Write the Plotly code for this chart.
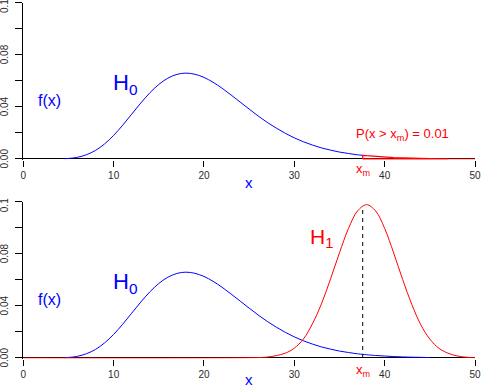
import plotly.graph_objects as go

# ---- data ----
h0_x = [4.5, 5, 6, 7, 8, 9, 10, 11, 12, 13, 14, 15, 16, 17, 18, 19, 20, 21, 22, 23, 24, 25,
        26, 27, 28, 29, 30, 31, 32, 33, 34, 35, 36, 37, 37.57, 38, 39, 40, 41, 42, 43, 44, 45, 46, 47]
h0_y = [0.0002, 0.0004, 0.0013, 0.0033, 0.0066, 0.0116, 0.0181, 0.0259, 0.0344, 0.0429, 0.0507,
        0.0572, 0.0620, 0.0649, 0.0659, 0.0650, 0.0626, 0.0589, 0.0543, 0.0491, 0.0437, 0.0383,
        0.0330, 0.0281, 0.0237, 0.0197, 0.0162, 0.0132, 0.0107, 0.0085, 0.0068, 0.0053, 0.0042,
        0.0032, 0.0028, 0.0025, 0.0019, 0.0015, 0.0011, 0.0008, 0.0006, 0.0005, 0.0003, 0.0003, 0.0002]
h1_x = [0, 26, 27, 28, 29, 30, 31, 32, 33, 34, 35, 36, 37, 38, 39, 40, 41, 42, 43, 44, 45, 46, 47, 48, 49, 50]
h1_y = [0.0, 0.0003, 0.0007, 0.0018, 0.0037, 0.0075, 0.0145, 0.0262, 0.0415, 0.0605, 0.0808,
        0.0995, 0.1129, 0.1177, 0.1129, 0.0995, 0.0806, 0.0601, 0.0412, 0.0255, 0.0145, 0.0075,
        0.0037, 0.0016, 0.0006, 0.0002]
x_m = 37.57
h1_at_xm = 0.1150
p_value_text = "P(x > x<sub>m</sub>) = 0.01"
h0_end_bottom = 45
tail_end = 47
x_max = 50

xtick_vals = [0, 10, 20, 30, 40, 50]
xtick_text = ["0", "10", "20", "30", "40", "50"]
ytick_vals = [0, 0.02, 0.04, 0.06, 0.08, 0.10, 0.12]
ylabel_vals = [0, 0.04, 0.08, 0.12]
ylabel_text = ["0.00", "0.04", "0.08", "0.1"]

BLUE = "#0000ff"
RED = "#ff0000"
FONT = "Liberation Sans, Arial, Helvetica, sans-serif"

fig = go.Figure()

# ---- top panel ----
top_x = [x for x in h0_x if x <= x_m]
top_y = [y for x, y in zip(h0_x, h0_y) if x <= x_m]
fig.add_trace(go.Scatter(x=top_x, y=top_y, mode="lines", line=dict(color=BLUE, width=1, shape="spline"),
                         xaxis="x", yaxis="y", showlegend=False))
tail_x = [x for x in h0_x if x_m <= x <= tail_end]
tail_y = [y for x, y in zip(h0_x, h0_y) if x_m <= x <= tail_end]
poly_x = [x_m] + tail_x + [tail_end, x_m]
poly_y = [0] + tail_y + [0, 0]
fig.add_trace(go.Scatter(x=poly_x, y=poly_y, mode="lines", line=dict(color=RED, width=1.2),
                         xaxis="x", yaxis="y", showlegend=False))
fig.add_trace(go.Scatter(x=[x_m, x_max], y=[0, 0], mode="lines", line=dict(color=RED, width=1.2),
                         xaxis="x", yaxis="y", showlegend=False))

# ---- bottom panel ----
bot_x = [x for x in h0_x if x <= h0_end_bottom]
bot_y = [y for x, y in zip(h0_x, h0_y) if x <= h0_end_bottom]
fig.add_trace(go.Scatter(x=bot_x, y=bot_y, mode="lines", line=dict(color=BLUE, width=1, shape="spline"),
                         xaxis="x2", yaxis="y2", showlegend=False))
fig.add_trace(go.Scatter(x=h1_x, y=h1_y, mode="lines", line=dict(color=RED, width=1, shape="spline"),
                         xaxis="x2", yaxis="y2", showlegend=False))
fig.add_trace(go.Scatter(x=[x_m, x_m], y=[0, h1_at_xm], mode="lines",
                         line=dict(color="black", width=1, dash="4px,4px"),
                         xaxis="x2", yaxis="y2", showlegend=False))

W, H = 481, 388
xdom = [23.3 / W, 475 / W]
top_dom = [(H - 159.5) / H, (H - 2.6) / H]
bot_dom = [(H - 358.5) / H, (H - 201.7) / H]
yr = [-0.0004, 0.12]

xaxis_common = dict(range=[0, x_max], domain=xdom, showline=False, showgrid=False, zeroline=False,
                    automargin=False,
                    tickmode="array", tickvals=xtick_vals, ticktext=xtick_text,
                    ticks="outside", ticklen=6, tickwidth=1, tickcolor="black",
                    tickfont=dict(family=FONT, size=10, color="#2a2a2a"), fixedrange=True)
yaxis_common = dict(range=yr, showline=True, linecolor="black", linewidth=1, showgrid=False,
                    zeroline=True, zerolinecolor="black", zerolinewidth=1, automargin=False,
                    tickmode="array", tickvals=ytick_vals, showticklabels=False,
                    ticks="outside", ticklen=7, tickwidth=1, tickcolor="black", fixedrange=True)

fig.update_layout(
    width=W, height=H,
    margin=dict(l=0, r=0, t=0, b=0, autoexpand=False),
    paper_bgcolor="white", plot_bgcolor="white",
    font=dict(family=FONT),
    xaxis=dict(**xaxis_common, anchor="y"),
    yaxis=dict(**yaxis_common, domain=top_dom, anchor="x"),
    xaxis2=dict(**xaxis_common, anchor="y2"),
    yaxis2=dict(**yaxis_common, domain=bot_dom, anchor="x2"),
)

ann = []
# y tick labels (rotated, R style)
for yref in ["y", "y2"]:
    for v, t in zip(ylabel_vals, ylabel_text):
        ann.append(dict(x=4.5 / W, xref="paper", y=v, yref=yref, text=t, textangle=-90,
                        showarrow=False, xanchor="center", yanchor="middle",
                        yshift=(-4 if t == "0.1" else 0),
                        font=dict(family=FONT, size=10, color="#2a2a2a")))

for xr, yr_, ys in [("x", "y", -24), ("x2", "y2", -22)]:
    ann.append(dict(x=25, xref=xr, y=0, yref=yr_, yshift=ys, text="x", showarrow=False,
                    font=dict(family=FONT, size=15, color=BLUE)))
    ann.append(dict(x=2.95, xref=xr, y=0.045, yref=yr_, text="f(x)", showarrow=False,
                    font=dict(family=FONT, size=16, color=BLUE)))
    ann.append(dict(x=9.7, xref=xr, y=0.0575, yref=yr_, text="H<sub>0</sub>", showarrow=False,
                    xanchor="left", font=dict(family=FONT, size=22, color=BLUE)))

ann.append(dict(x=x_m, xref="x", y=0, yref="y", yshift=-11, text="x<sub>m</sub>", showarrow=False,
                font=dict(family=FONT, size=13, color=RED)))
ann.append(dict(x=x_m, xref="x2", y=0, yref="y2", yshift=-13, text="x<sub>m</sub>", showarrow=False,
                font=dict(family=FONT, size=13, color=RED)))
ann.append(dict(x=42.0, xref="x", y=0.0185, yref="y", text=p_value_text, showarrow=False,
                font=dict(family=FONT, size=13, color=RED)))
ann.append(dict(x=31.5, xref="x2", y=0.092, yref="y2", text="H<sub>1</sub>", showarrow=False,
                xanchor="left", font=dict(family=FONT, size=21, color=RED)))

fig.update_layout(annotations=ann)
fig.write_html("out.html", config={"displayModeBar": False},
               post_script="document.body.style.margin='0';document.body.style.overflow='hidden';")
